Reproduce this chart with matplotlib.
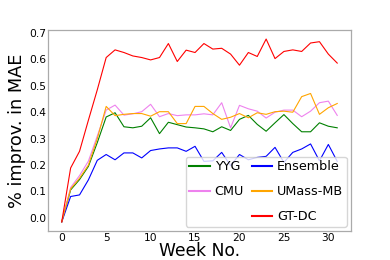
import matplotlib
matplotlib.use("Agg")
import matplotlib.pyplot as plt
from matplotlib.lines import Line2D

weeks = list(range(32))

yyg = [-0.015, 0.106, 0.145, 0.195, 0.285, 0.382, 0.398, 0.345, 0.341, 0.347, 0.379, 0.319,
       0.362, 0.353, 0.344, 0.341, 0.337, 0.326, 0.345, 0.331, 0.373, 0.388, 0.354, 0.328,
       0.360, 0.391, 0.357, 0.326, 0.326, 0.360, 0.347, 0.341]
cmu = [-0.015, 0.115, 0.160, 0.215, 0.310, 0.408, 0.427, 0.389, 0.394, 0.402, 0.430, 0.383,
       0.395, 0.387, 0.390, 0.390, 0.394, 0.390, 0.436, 0.341, 0.426, 0.413, 0.404, 0.378,
       0.400, 0.408, 0.408, 0.383, 0.404, 0.436, 0.442, 0.388]
ensemble = [-0.015, 0.081, 0.087, 0.144, 0.218, 0.240, 0.220, 0.246, 0.246, 0.227, 0.255, 0.261,
            0.265, 0.265, 0.252, 0.271, 0.214, 0.216, 0.248, 0.198, 0.240, 0.220, 0.229, 0.233,
            0.267, 0.210, 0.248, 0.261, 0.280, 0.216, 0.278, 0.214]
umass = [-0.015, 0.110, 0.150, 0.200, 0.300, 0.422, 0.387, 0.392, 0.395, 0.395, 0.385, 0.402,
         0.402, 0.357, 0.357, 0.422, 0.422, 0.395, 0.373, 0.381, 0.395, 0.379, 0.398, 0.392,
         0.402, 0.404, 0.400, 0.459, 0.471, 0.392, 0.417, 0.433]
gtdc = [-0.015, 0.189, 0.252, 0.370, 0.485, 0.607, 0.636, 0.626, 0.613, 0.607, 0.598, 0.607,
        0.660, 0.592, 0.635, 0.626, 0.660, 0.639, 0.642, 0.620, 0.578, 0.626, 0.611, 0.677,
        0.603, 0.630, 0.636, 0.630, 0.662, 0.667, 0.620, 0.586]

fig = plt.figure(figsize=(3.9, 2.6), dpi=100)
ax = fig.add_axes([0.123, 0.1115, 0.777, 0.7735])

lw = 0.8
l_yyg, = ax.plot(weeks, yyg, color="green", lw=lw, label="YYG")
l_cmu, = ax.plot(weeks, cmu, color="violet", lw=lw, label="CMU")
l_ens, = ax.plot(weeks, ensemble, color="blue", lw=lw, label="Ensemble")
l_um, = ax.plot(weeks, umass, color="orange", lw=lw, label="UMass-MB")
l_gt, = ax.plot(weeks, gtdc, color="red", lw=lw, label="GT-DC")

ax.set_yticks([0.0, 0.1, 0.2, 0.3, 0.4, 0.5, 0.6, 0.7])
ax.set_xticks([0, 5, 10, 15, 20, 25, 30])
ax.tick_params(axis="both", length=0, labelsize=7.7)
ax.tick_params(axis="y", pad=1.5)
ax.tick_params(axis="x", pad=1.5)
for s in ax.spines.values():
    s.set_color("#aaaaaa")
    s.set_linewidth(0.9)

ax.set_xlabel("Week No.", fontsize=12.3, va="baseline")
ax.xaxis.set_label_coords(0.5, -0.122)
ax.set_ylabel("% improv. in MAE", fontsize=12.8, labelpad=2)

blank = Line2D([], [], color="none")
handles = [l_yyg, l_cmu, blank, l_ens, l_um, l_gt]
labels = ["YYG", "CMU", "", "Ensemble", "UMass-MB", "GT-DC"]
leg = ax.legend(handles, labels, ncol=2, loc="lower right", fontsize=9.2,
                handlelength=1.6, handletextpad=0.4, columnspacing=0.6,
                borderpad=0.25, labelspacing=0.95, borderaxespad=0.35)
for h in leg.legend_handles:
    h.set_linewidth(1.5)

fig.savefig("out.png", dpi=100)
